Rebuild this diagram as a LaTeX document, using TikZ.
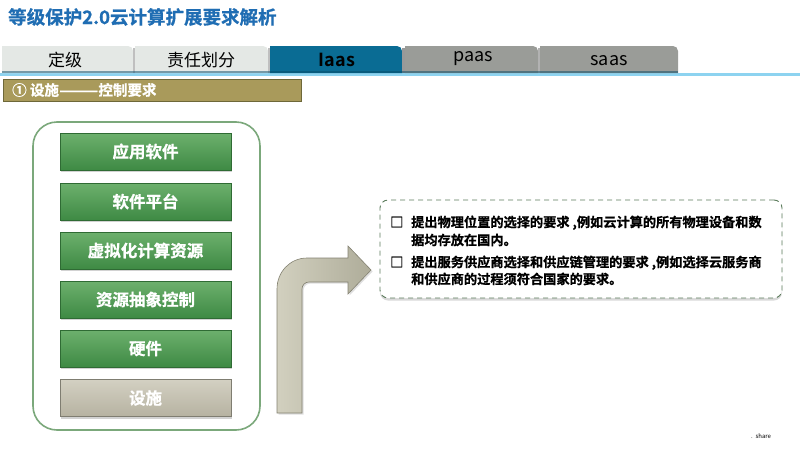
\documentclass[tikz,border=0pt]{standalone}
\usepackage{fontspec}
\setmainfont{Noto Sans CJK SC}[BoldFont={Noto Sans CJK SC Bold}]
\newfontfamily\heavyfont{Noto Sans CJK SC Bold}[FakeBold=0.8]
\usepackage{tikz}
\usetikzlibrary{shadows}
\definecolor{titleblue}{HTML}{1F6DB3}
\definecolor{tablight}{HTML}{E4E8E5}
\definecolor{tabblue}{HTML}{0A6C94}
\definecolor{tabgrey}{HTML}{9A9C98}
\definecolor{lineblue}{HTML}{8DD3F0}
\definecolor{barolive}{HTML}{A99A5B}
\definecolor{barrim}{HTML}{6E6839}
\definecolor{framegreen}{HTML}{7BA87B}
\definecolor{layertop}{HTML}{6DB06D}
\definecolor{layerbot}{HTML}{3E8A44}
\definecolor{layerrim}{HTML}{2F6B34}
\definecolor{basetop}{HTML}{D3D0C2}
\definecolor{basebot}{HTML}{B6B2A1}
\definecolor{arrowtop}{HTML}{D2D0BF}
\definecolor{arrowbot}{HTML}{A5A38E}
\definecolor{dashgreen}{HTML}{5B7B5B}

\begin{document}
\begin{tikzpicture}[x=1pt, y=-1pt,
  tabtext/.style={anchor=base, font=\fontsize{17}{17}\selectfont},
  layer/.style={draw=layerrim, line width=0.6pt, top color=layertop, bottom color=layerbot,
    minimum width=171pt, minimum height=37pt, text=white,
    font=\heavyfont\fontsize{16.5}{16.5}\selectfont,
    drop shadow={opacity=0.35, shadow xshift=1pt, shadow yshift=-2pt}},
  reqline/.style={anchor=base west, inner sep=0pt, font=\heavyfont\fontsize{13.2}{13.2}\selectfont}]
  \useasboundingbox (0,0) rectangle (800,450);
  \fill[white] (0,0) rectangle (800,450);

  \node[anchor=base west, inner sep=0pt, text=titleblue, font=\heavyfont\fontsize{18.5}{18.5}\selectfont]
    (title) at (8,24) {等级保护2.0云计算扩展要求解析};

  % tab strip
  \fill[lineblue] (0,72.5) rectangle (800,75.5);
  \fill[tablight] (2,73) -- (2,46) -- (128,46) arc (-90:0:5) -- (133,73) -- cycle;
  \fill[tablight] (135,73) -- (135,46) -- (263,46) arc (-90:0:5) -- (268,73) -- cycle;
  \fill[tabblue] (270,73) -- (270,46) -- (397,46) arc (-90:0:5) -- (402,73) -- cycle;
  \fill[tabgrey] (405,73) -- (405,46) -- (533,46) arc (-90:0:5) -- (538,73) -- cycle;
  \fill[tabgrey] (540,73) -- (540,46) -- (673,46) arc (-90:0:5) -- (678,73) -- cycle;
  \fill[black!25] (133,48) rectangle (135,73);
  \fill[black!25] (268,48) rectangle (270,73);
  \fill[black!40] (402,48) rectangle (405,73);
  \fill[black!30] (538,48) rectangle (540,73);
  \fill[tabblue!70!black, opacity=0.5] (2,71) rectangle (678,73);
  \node[tabtext] (tabgrade) at (65,66.5) {定级};
  \node[tabtext] (tabduty) at (201,66.5) {责任划分};
  \node[tabtext, font=\bfseries\fontsize{18}{18}\selectfont] (tabiaas) at (337,66.5) {Iaas};
  \node[tabtext, font=\fontsize{18}{18}\selectfont] (tabpaas) at (473,61.5) {paas};
  \node[tabtext, font=\fontsize{18}{18}\selectfont] (tabsaas) at (609,65.5) {saas};

  % sub heading
  \draw[fill=barolive, draw=barrim, line width=0.8pt] (3,79) rectangle (301,101);
  \node[anchor=base west, inner sep=0pt, text=white, font=\heavyfont\fontsize{14.5}{14.5}\selectfont]
    (subhead) at (12,95.5) {① 设施\scalebox{1.6}[1]{——}控制要求};

  % layer stack
  \draw[framegreen, line width=1.6pt, rounded corners=24pt, fill=white] (33,122) rectangle (260,430);
  \node[layer] (app) at (145.5,151.5) {应用软件};
  \node[layer] (platform) at (145.5,201.5) {软件平台};
  \node[layer] (virtual) at (145.5,250.5) {虚拟化计算资源};
  \node[layer] (abstract) at (145.5,299.5) {资源抽象控制};
  \node[layer] (hardware) at (145.5,348.5) {硬件};
  \node[layer, top color=basetop, bottom color=basebot, draw=basebot!70!black] (facility) at (145.5,398) {设施};

  % bent arrow
  \draw[draw=arrowbot!80!black, line width=0.6pt, left color=arrowtop, right color=arrowbot!90,
    drop shadow={opacity=0.25, shadow xshift=1.5pt, shadow yshift=-1.5pt}]
    (277,413) -- (277,289) .. controls (277,271.9) and (290.1,258) .. (307,258)
    -- (348,258) -- (348,246) -- (371,270) -- (348,294) -- (348,282)
    -- (309,282) .. controls (305.1,282) and (302,285.1) .. (302,289) -- (302,413) -- cycle;

  % requirement box
  \node[draw=dashgreen, line width=0.9pt, dash pattern=on 5pt off 4pt, rounded corners=8pt,
    fill=white, minimum width=402pt, minimum height=98pt,
    drop shadow={opacity=0.3, shadow xshift=0pt, shadow yshift=-2.5pt}]
    (req) at (581,249) {};
  \node[reqline] (boxa) at (390,227) {□};
  \node[reqline] (linea) at (411,227) {提出物理位置的选择的要求 ,例如云计算的所有物理设备和数};
  \node[reqline] (lineb) at (411,245) {据均存放在国内。};
  \node[reqline] (boxb) at (390,267) {□};
  \node[reqline] (linec) at (411,267) {提出服务供应商选择和供应链管理的要求 ,例如选择云服务商};
  \node[reqline] (lined) at (411,284) {和供应商的过程须符合国家的要求。};

  \node[anchor=base west, inner sep=0pt, font=\fontsize{6}{6}\selectfont] (share) at (751,438) {.\ \ share};
\end{tikzpicture}
\end{document}
